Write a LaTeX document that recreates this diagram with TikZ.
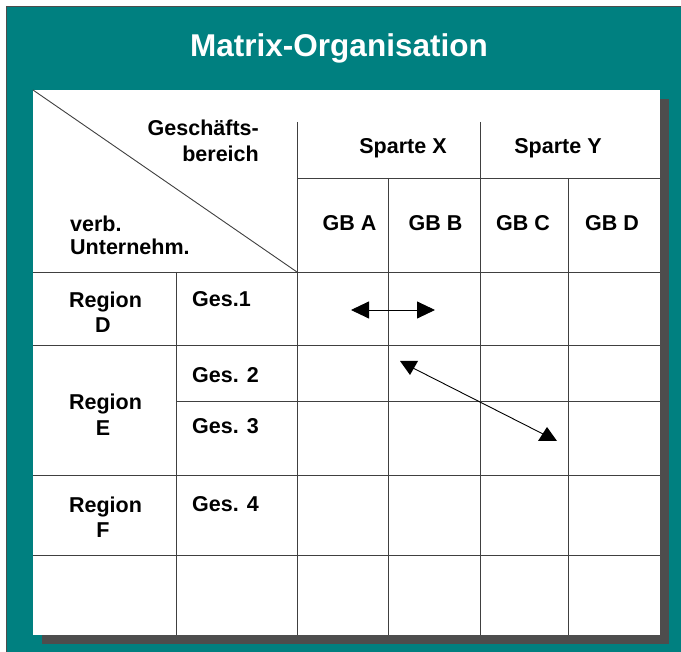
\documentclass[tikz,border=0pt]{standalone}
\usepackage{fontspec}
\setmainfont{Liberation Sans}
\usetikzlibrary{arrows.meta}
\definecolor{tealbg}{RGB}{0,128,128}
\definecolor{shadowgray}{RGB}{77,77,77}
\begin{document}
\begin{tikzpicture}[x=1pt,y=-1pt,
  grid/.style={draw=black!75, line width=0.9pt},
  lbl/.style={font=\bfseries\fontsize{21.5}{25}\selectfont, inner sep=0pt, anchor=base},
  lblw/.style={lbl, anchor=base west},
  lble/.style={lbl, anchor=base east},
  titlestyle/.style={font=\bfseries\fontsize{31.5}{35}\selectfont, text=white, inner sep=0pt, anchor=base},
  conn/.style={draw=black, line width=0.9pt},
  head/.style={fill=black}
]
\useasboundingbox (0,0) rectangle (681,652);
\fill[white] (0,0) rectangle (681,652);
\fill[tealbg] (6.5,6.5) rectangle (681,652);
\draw[black!70, line width=1pt] (6.5,652) -- (6.5,6.5) -- (681,6.5);
\fill[shadowgray] (42,99) rectangle (669,644);
\fill[white] (33,90) rectangle (660,635);
\node[titlestyle] (title) at (339,57) {Matrix-Organisation};

% grid
\draw[grid] (33,90) -- (297,272);
\draw[grid] (297,122) -- (297,635);
\draw[grid] (480,122) -- (480,635);
\draw[grid] (388,178) -- (388,635);
\draw[grid] (568,178) -- (568,635);
\draw[grid] (176,272) -- (176,635);
\draw[grid] (297,178) -- (660,178);
\draw[grid] (33,272) -- (660,272);
\draw[grid] (33,345.5) -- (660,345.5);
\draw[grid] (176,401) -- (660,401);
\draw[grid] (33,475.5) -- (660,475.5);
\draw[grid] (33,555) -- (660,555);

% header texts
\node[lble] (gb1) at (259,136) {Geschäfts-};
\node[lble] (gb2) at (259,162) {bereich};
\node[lblw] (vu1) at (70,232) {verb.};
\node[lblw] (vu2) at (70,255) {Unternehm.};
\node[lbl] (spx) at (403,154) {Sparte X};
\node[lbl] (spy) at (558,154) {Sparte Y};
\node[lbl] (gba) at (349.5,231) {GB A};
\node[lbl] (gbb) at (435.5,231) {GB B};
\node[lbl] (gbc) at (523,231) {GB C};
\node[lbl] (gbd) at (612,231) {GB D};

% rows
\node[lbl] (rd1) at (105.5,308) {Region};
\node[lbl] (rd2) at (103,333) {D};
\node[lbl] (re1) at (105.5,410) {Region};
\node[lbl] (re2) at (103,436) {E};
\node[lbl] (rf1) at (105.5,513) {Region};
\node[lbl] (rf2) at (103,538) {F};
\node[lblw] (g1) at (192,307) {Ges.1};
\node[lblw] (g2) at (192,383) {Ges. 2};
\node[lblw] (g3) at (192,434) {Ges. 3};
\node[lblw] (g4) at (192,512) {Ges. 4};

% arrows
\coordinate (h1) at (351,310);
\coordinate (h2) at (435,310);
\draw[conn, {Triangle[length=18pt,width=17pt]}-{Triangle[length=18pt,width=17pt]}] (h1) -- (h2);
\coordinate (d1) at (409,366);
\coordinate (d2) at (547,436);
\draw[conn] (d1) -- (d2);
\fill[head] (400,361) -- (418,361) -- (410,375) -- cycle;
\fill[head] (538,441) -- (557,441) -- (547,427) -- cycle;
\end{tikzpicture}
\end{document}
